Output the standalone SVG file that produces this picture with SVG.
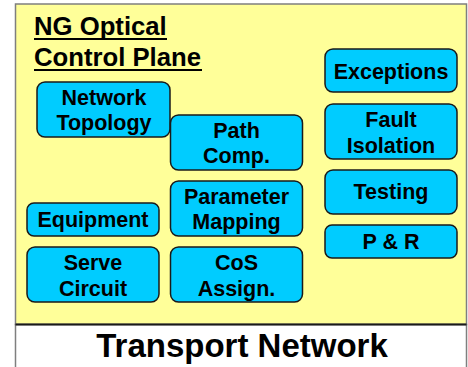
<svg xmlns="http://www.w3.org/2000/svg" width="468" height="367" viewBox="0 0 468 367">
<style>
.node rect{fill:#00CCFF;stroke:#1a1a1a;stroke-width:1.5}
.node text{font-family:"Liberation Sans",Arial,sans-serif;font-weight:bold;font-size:21.5px;fill:#000;text-anchor:middle}
.title{font-family:"Liberation Sans",Arial,sans-serif;font-weight:bold;font-size:25.7px;fill:#000}
.uline{stroke:#000;stroke-width:2}
.big{font-family:"Liberation Sans",Arial,sans-serif;font-weight:bold;font-size:33px;fill:#000;text-anchor:middle}
</style>
<rect x="0" y="0" width="468" height="367" fill="#fff"/>
<g id="control-plane">
<rect x="15.5" y="4" width="451" height="320.5" fill="#FFFF99" stroke="#7f7f7f" stroke-width="1.5"/>
<text class="title" x="34" y="35">NG Optical</text>
<line class="uline" x1="34" y1="39" x2="167" y2="39"/>
<text class="title" x="34" y="66">Control Plane</text>
<line class="uline" x1="34" y1="70" x2="202" y2="70"/>
</g>
<g id="transport-network">
<rect x="15.5" y="324.5" width="451" height="50" fill="#fff" stroke="#7f7f7f" stroke-width="1.5"/>
<line x1="15.5" y1="324.5" x2="466.5" y2="324.5" stroke="#1a1a1a" stroke-width="2"/>
<text class="big" x="242" y="357">Transport Network</text>
</g>
<g id="connectors"></g>
<g id="network-topology" class="node">
<rect x="37" y="82" width="133" height="55" rx="8"/>
<text x="104" y="105">Network</text>
<text x="104" y="130">Topology</text>
</g>
<g id="path-comp" class="node">
<rect x="170.5" y="115" width="132" height="55" rx="8"/>
<text x="236.5" y="137.5">Path</text>
<text x="236.5" y="163">Comp.</text>
</g>
<g id="parameter-mapping" class="node">
<rect x="170.5" y="181" width="132" height="55" rx="8"/>
<text x="236.5" y="203.5">Parameter</text>
<text x="236.5" y="229">Mapping</text>
</g>
<g id="cos-assign" class="node">
<rect x="170.5" y="247" width="132" height="55" rx="8"/>
<text x="236.5" y="269.5">CoS</text>
<text x="236.5" y="295.5">Assign.</text>
</g>
<g id="equipment" class="node">
<rect x="27" y="203" width="132" height="33" rx="7"/>
<text x="93" y="227">Equipment</text>
</g>
<g id="serve-circuit" class="node">
<rect x="27" y="247" width="132" height="55" rx="8"/>
<text x="93" y="269.5">Serve</text>
<text x="93" y="295.5">Circuit</text>
</g>
<g id="exceptions" class="node">
<rect x="325" y="49" width="132" height="43" rx="8"/>
<text x="391" y="79">Exceptions</text>
</g>
<g id="fault-isolation" class="node">
<rect x="325" y="104" width="132" height="55" rx="8"/>
<text x="391" y="126.5">Fault</text>
<text x="391" y="152.5">Isolation</text>
</g>
<g id="testing" class="node">
<rect x="325" y="170" width="132" height="44" rx="8"/>
<text x="391" y="199">Testing</text>
</g>
<g id="p-and-r" class="node">
<rect x="325" y="225" width="132" height="33" rx="7"/>
<text x="391" y="249">P &amp; R</text>
</g>
</svg>
